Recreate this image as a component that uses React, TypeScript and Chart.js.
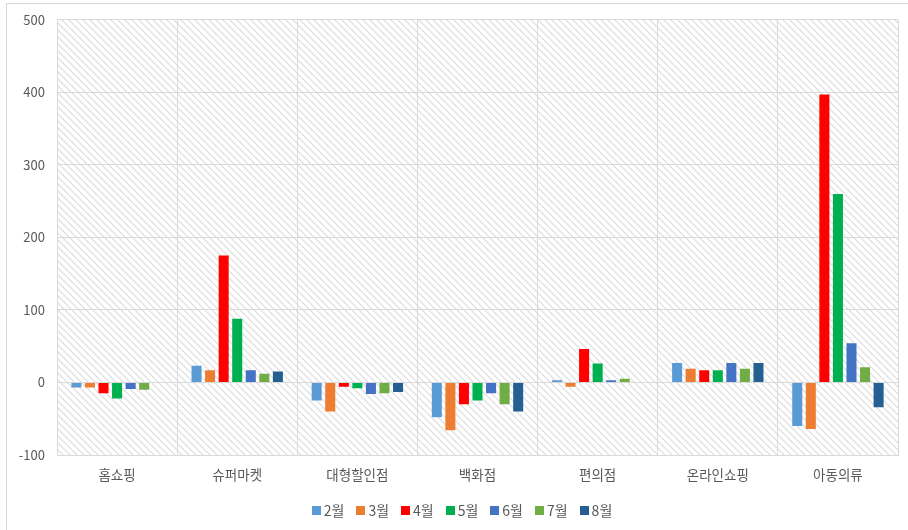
import React, { useEffect, useRef } from "react";
import { Chart, registerables } from "chart.js";

Chart.register(...registerables);

const categories = ["홈쇼핑", "슈퍼마켓", "대형할인점", "백화점", "편의점", "온라인쇼핑", "아동의류"];
const seriesNames = ["2월", "3월", "4월", "5월", "6월", "7월", "8월"];
const feb = [-7, 23, -25, -48, 3, 27, -60];
const mar = [-7, 17, -40, -66, -6, 19, -64];
const apr = [-15, 175, -6, -30, 46, 17, 397];
const may = [-22, 88, -8, -25, 26, 17, 260];
const jun = [-9, 17, -16, -15, 3, 27, 54];
const jul = [-10, 12, -15, -30, 5, 19, 21];
const aug = [null, 15, -13, -40, null, 27, -34];
const seriesColors = ["#5B9BD5", "#ED7D31", "#FF0000", "#00B050", "#4472C4", "#70AD47", "#255E91"];
const yMin = -100;
const yMax = 500;
const yStep = 100;

const FONT = "'Noto Sans CJK KR', 'Noto Sans', sans-serif";
const TEXT = "#595959";
const GRID = "#d9d9d9";

function makePattern(ctx: CanvasRenderingContext2D) {
  const s = 7;
  const c = document.createElement("canvas");
  c.width = s;
  c.height = s;
  const p = c.getContext("2d")!;
  p.fillStyle = "#ffffff";
  p.fillRect(0, 0, s, s);
  p.strokeStyle = "#dcdcdc";
  p.lineWidth = 1.2;
  p.beginPath();
  p.moveTo(-1, -1);
  p.lineTo(s + 1, s + 1);
  p.moveTo(-1, s - 1);
  p.lineTo(1, s + 1);
  p.moveTo(s - 1, -1);
  p.lineTo(s + 1, 1);
  p.stroke();
  return ctx.createPattern(c, "repeat");
}

const backgroundPlugin = {
  id: "bgHatch",
  beforeDraw(chart: any) {
    const { ctx, chartArea } = chart;
    ctx.save();
    ctx.fillStyle = "#ffffff";
    ctx.fillRect(0, 0, chart.width, chart.height);
    ctx.strokeStyle = GRID;
    ctx.lineWidth = 1;
    ctx.strokeRect(6.5, 3.5, chart.width + 10, chart.height + 10);
    const pat = makePattern(ctx);
    if (pat) {
      ctx.fillStyle = pat;
      ctx.fillRect(chartArea.left, chartArea.top, chartArea.right - chartArea.left, chartArea.bottom - chartArea.top);
    }
    ctx.restore();
  },
};

const customLegend = {
  id: "customLegend",
  afterDraw(chart: any) {
    const { ctx } = chart;
    const ds = chart.data.datasets;
    ctx.save();
    ctx.font = `14px ${FONT}`;
    ctx.textBaseline = "middle";
    const box = 9;
    const gapText = 3;
    const gapItem = 12;
    const widths = ds.map((d: any) => ctx.measureText(d.label).width);
    const total = widths.reduce((a: number, w: number) => a + box + gapText + w + gapItem, 0) - gapItem;
    let x = 462 - total / 2;
    const cy = 510.5;
    ds.forEach((d: any, i: number) => {
      ctx.fillStyle = d.backgroundColor;
      ctx.fillRect(Math.round(x), Math.round(cy - box / 2), box, box);
      ctx.fillStyle = TEXT;
      ctx.fillText(d.label, x + box + gapText, cy);
      x += box + gapText + widths[i] + gapItem;
    });
    ctx.restore();
  },
};

export default function App() {
  const ref = useRef<HTMLCanvasElement | null>(null);
  useEffect(() => {
    document.body.style.margin = "0";
    const values = [feb, mar, apr, may, jun, jul, aug];
    const chart = new Chart(ref.current!, {
      type: "bar",
      data: {
        labels: categories,
        datasets: seriesNames.map((n, i) => ({
          label: n,
          data: values[i],
          backgroundColor: seriesColors[i],
          borderWidth: 0,
          barPercentage: 0.74,
          categoryPercentage: 0.79,
        })),
      },
      options: {
        responsive: false,
        animation: false,
        devicePixelRatio: 1,
        layout: { padding: { top: 19, right: 10, left: 0, bottom: 33 } },
        plugins: {
          tooltip: { enabled: false },
          legend: { display: false },
        },
        scales: {
          x: {
            grid: { color: GRID, drawTicks: false, offset: true },
            border: { color: GRID },
            ticks: { color: TEXT, font: { family: FONT, size: 13.5 }, padding: 12 },
            afterFit(scale: any) {
              scale.height = 42;
            },
          },
          y: {
            min: yMin,
            max: yMax,
            ticks: { stepSize: yStep, color: TEXT, font: { family: FONT, size: 13 }, padding: 12 },
            grid: { color: GRID, drawTicks: false },
            border: { color: GRID },
            afterFit(scale: any) {
              scale.width = 57;
            },
          },
        },
      },
      plugins: [backgroundPlugin, customLegend],
    } as any);
    return () => chart.destroy();
  }, []);
  return <canvas ref={ref} width={908} height={530} style={{ display: "block" }} />;
}
